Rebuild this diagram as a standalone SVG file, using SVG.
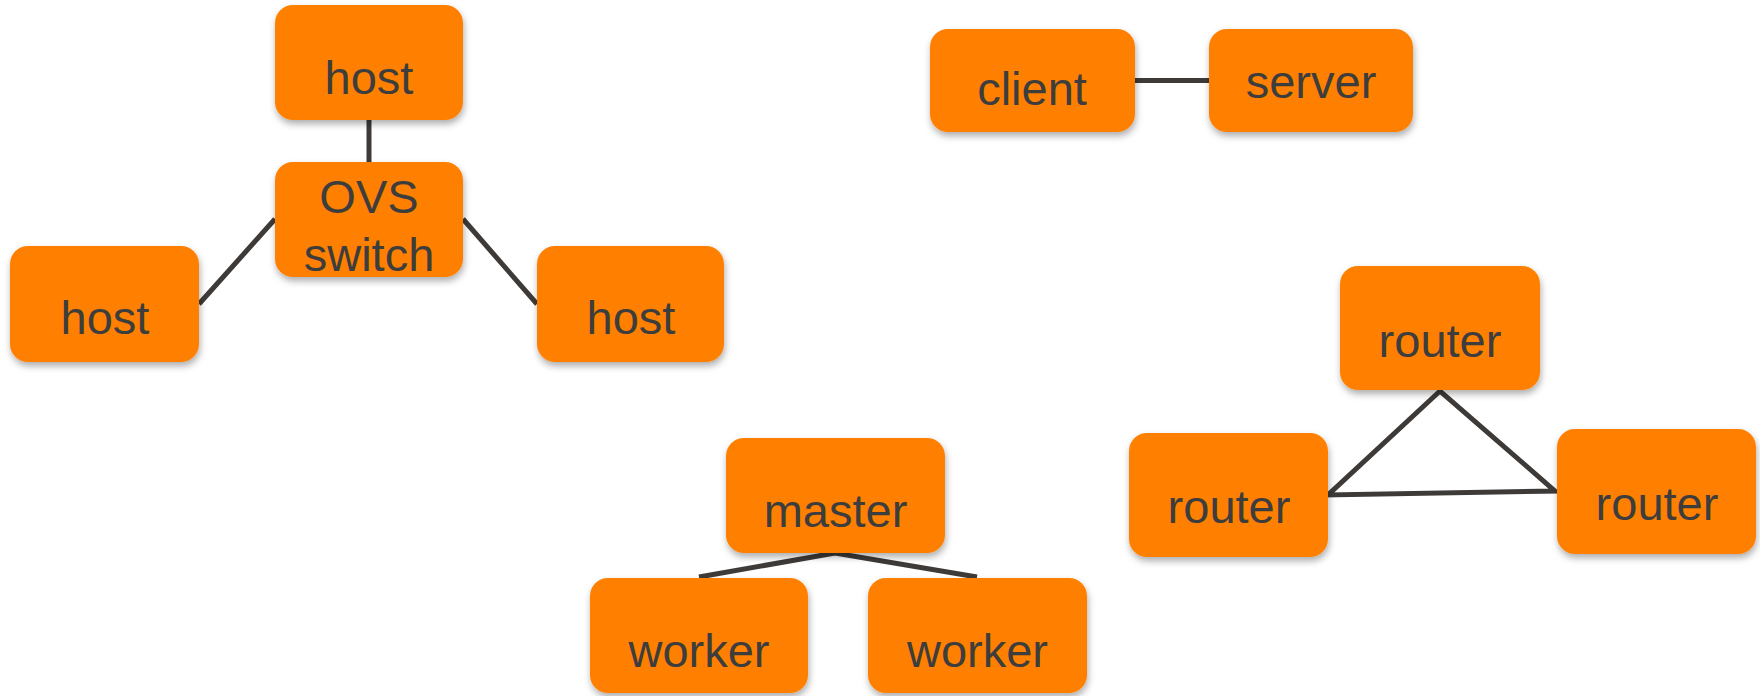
<svg xmlns="http://www.w3.org/2000/svg" width="1760" height="696" viewBox="0 0 1760 696">
  <defs>
    <filter id="shadow" x="-10%" y="-10%" width="120%" height="130%">
      <feDropShadow dx="1" dy="4" stdDeviation="3.5" flood-color="#000" flood-opacity="0.32"/>
    </filter>
    <style>
      .box { fill: #ff8000; filter: url(#shadow); }
      .lbl { font-family: "Liberation Sans", Arial, Helvetica, sans-serif; font-size: 47px; fill: #3d3d3d; text-anchor: middle; }
      .edge { stroke: #3d3a38; stroke-width: 5; fill: none; stroke-linecap: butt; stroke-linejoin: miter; }
    </style>
  </defs>
  <rect width="1760" height="696" fill="#ffffff"/>

  <g id="connectors">
    <line class="edge" x1="369" y1="120" x2="369" y2="162"/>
    <line class="edge" x1="275" y1="219" x2="199" y2="304"/>
    <line class="edge" x1="463" y1="219" x2="537" y2="304"/>
    <line class="edge" x1="1135" y1="80.5" x2="1209" y2="80.5"/>
    <polyline class="edge" points="699,577 835,553 977,577"/>
    <polygon class="edge" points="1440,391 1328,495 1555,491"/>
  </g>

  <g id="host-top">
    <rect class="box" x="275" y="5" width="188" height="115" rx="18"/>
    <text class="lbl" x="369" y="94">host</text>
  </g>
  <g id="ovs-switch">
    <rect class="box" x="275" y="162" width="188" height="115" rx="18"/>
    <text class="lbl" x="369" y="213">OVS</text>
    <text class="lbl" x="369" y="271">switch</text>
  </g>
  <g id="host-left">
    <rect class="box" x="10" y="246" width="189" height="116" rx="18"/>
    <text class="lbl" x="105" y="334">host</text>
  </g>
  <g id="host-right">
    <rect class="box" x="537" y="246" width="187" height="116" rx="18"/>
    <text class="lbl" x="631" y="334">host</text>
  </g>

  <g id="client">
    <rect class="box" x="930" y="29" width="205" height="103" rx="18"/>
    <text class="lbl" x="1032" y="105">client</text>
  </g>
  <g id="server">
    <rect class="box" x="1209" y="29" width="204" height="103" rx="18"/>
    <text class="lbl" x="1311" y="98">server</text>
  </g>

  <g id="router-top">
    <rect class="box" x="1340" y="266" width="200" height="124" rx="18"/>
    <text class="lbl" x="1440" y="357">router</text>
  </g>
  <g id="router-left">
    <rect class="box" x="1129" y="433" width="199" height="124" rx="18"/>
    <text class="lbl" x="1229" y="523">router</text>
  </g>
  <g id="router-right">
    <rect class="box" x="1557" y="429" width="199" height="125" rx="18"/>
    <text class="lbl" x="1657" y="520">router</text>
  </g>

  <g id="master">
    <rect class="box" x="726" y="438" width="219" height="115" rx="18"/>
    <text class="lbl" x="835.5" y="527">master</text>
  </g>
  <g id="worker-left">
    <rect class="box" x="590" y="578" width="218" height="115" rx="18"/>
    <text class="lbl" x="699" y="667">worker</text>
  </g>
  <g id="worker-right">
    <rect class="box" x="868" y="578" width="219" height="115" rx="18"/>
    <text class="lbl" x="977.5" y="667">worker</text>
  </g>
</svg>
